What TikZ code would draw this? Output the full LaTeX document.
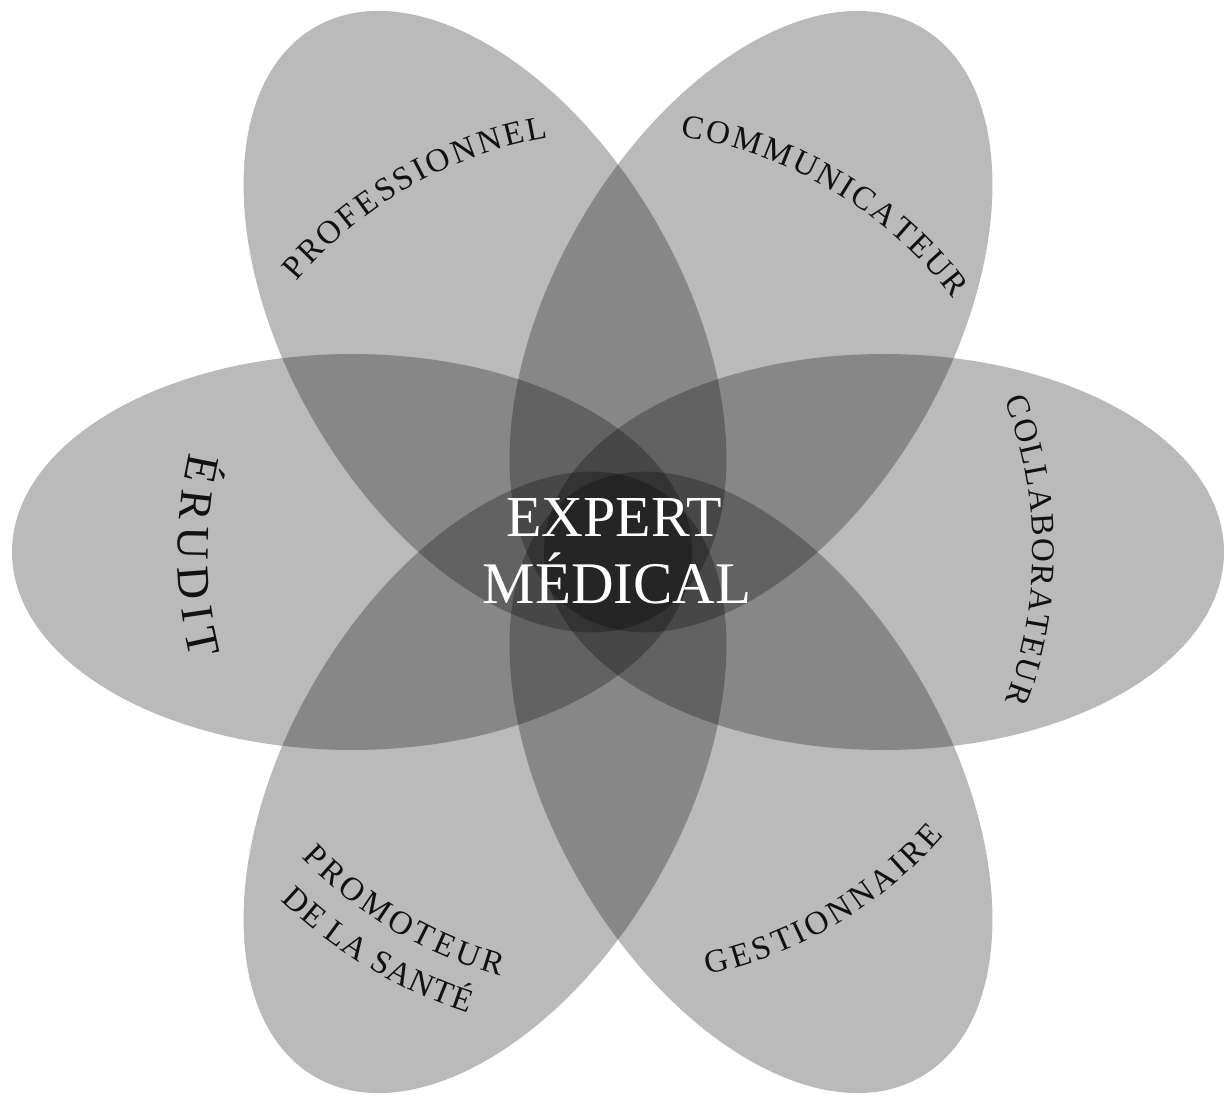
\documentclass[tikz,border=0pt]{standalone}
\usepackage{fontspec}
\setmainfont{Liberation Serif}
\usetikzlibrary{decorations.text}
\definecolor{encre}{HTML}{111111}
\definecolor{papier}{HTML}{FFFFFF}
\newcommand\etiq{\fontsize{33}{33}\selectfont}
\newcommand\etiqgrand{\fontsize{46}{46}\selectfont}
\tikzset{
  petale/.style={fill=black, fill opacity=0.27},
  arcetiq/.style={decorate, decoration={text along path, text align=fit to path,
    text color=encre, text={#1}}}
}

\begin{document}
\begin{tikzpicture}[x=1pt, y=1pt]
        \fill[papier] (-618,-543) rectangle (609,552);
        \useasboundingbox (-618,-543) rectangle (609,552);
        \foreach \ang in {0,60,...,300}
          \fill[petale, rotate=\ang] (266,0) ellipse[x radius=340pt, y radius=198pt];
        \node[anchor=base, text=papier, font=\fontsize{58}{58}\selectfont, inner sep=0pt] (expert) at (-4,15) {EXPERT};
        \node[anchor=base, text=papier, font=\fontsize{59}{59}\selectfont, inner sep=0pt] (medical) at (-1,-52) {MÉDICAL};
        \path[arcetiq={|\etiq|PROFESSIONNEL}] (140:420pt) arc[start angle=140, end angle=99.5, radius=420pt];
        \path[arcetiq={|\etiq|COMMUNICATEUR}] (81.5:420pt) arc[start angle=81.5, end angle=37, radius=420pt];
        \path[arcetiq={|\etiq|COLLABORATEUR}] (21.5:415pt) arc[start angle=21.5, end angle=-21, radius=415pt];
        \path[arcetiq={|\etiq|GESTIONNAIRE}] (282:432pt) arc[start angle=282, end angle=319, radius=432pt];
        \path[arcetiq={|\etiq|PROMOTEUR}] (224:440pt) arc[start angle=224, end angle=254.5, radius=440pt];
        \path[arcetiq={|\etiq|DE LA SANTÉ}] (226:485pt) arc[start angle=226, end angle=252, radius=485pt];
        \path[arcetiq={|\etiqgrand|ÉRUDIT}] (167:440pt) arc[start angle=167, end angle=194, radius=440pt];
      \end{tikzpicture}
\end{document}
